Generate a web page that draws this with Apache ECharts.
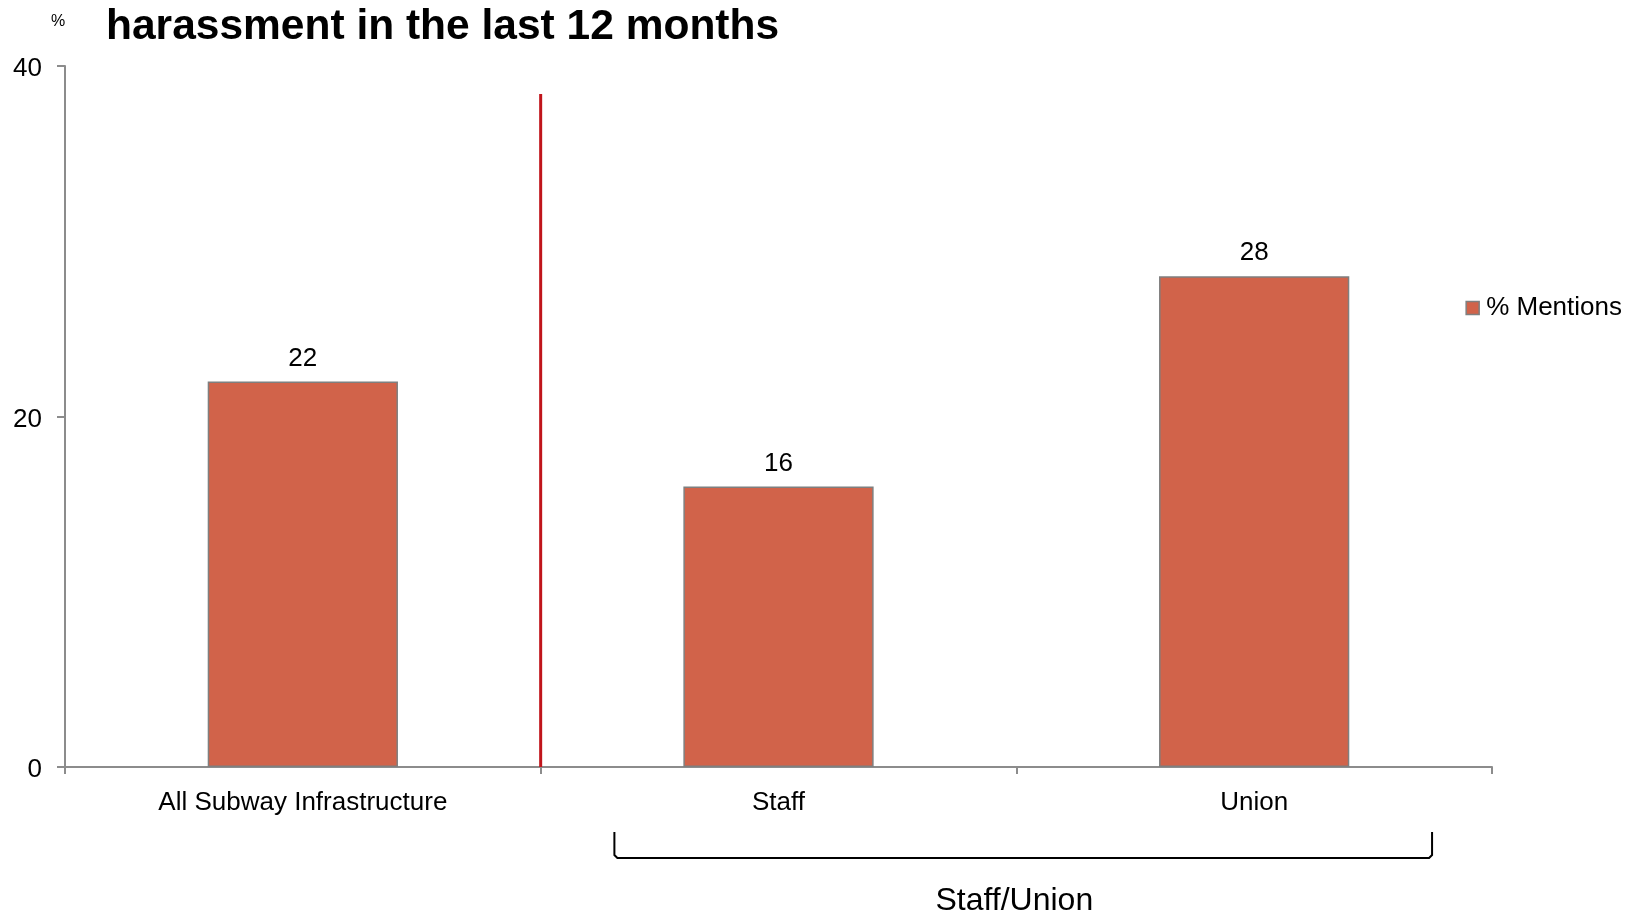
<!DOCTYPE html>
<html>
<head>
<meta charset="utf-8">
<style>
  html, body { margin: 0; padding: 0; background: #ffffff; }
  #chart { width: 1625px; height: 912px; }
</style>
<script src="https://cdn.jsdelivr.net/npm/echarts@6/dist/echarts.min.js"></script>
</head>
<body>
<div id="chart"></div>
<script>
// Categories and values
const categories = ['All Subway Infrastructure', 'Staff', 'Union'];
const mentions = [22, 16, 28];
const seriesName = '% Mentions';
const yTicks = { min: 0, max: 40, interval: 20 };
const groupLabel = 'Staff/Union';
const titleText = 'harassment in the last 12 months';
const unitText = '%';
// Height (in axis units) reached by the divider between the total and the groups
const dividerTop = 38.4;

const FONT = "'Liberation Sans', Arial, Helvetica, sans-serif";
const BAR = '#d1634a';
const AXIS = '#8c8c8c';

const chart = echarts.init(document.getElementById('chart'), null, { renderer: 'canvas' });

chart.setOption({
  animation: false,
  backgroundColor: '#ffffff',
  textStyle: { fontFamily: FONT },
  title: [
    {
      text: titleText,
      left: 101, top: 1,
      textStyle: { fontFamily: FONT, fontSize: 42.5, fontWeight: 'bold', color: '#000' }
    },
    {
      text: unitText,
      left: 46, top: 9,
      textStyle: { fontFamily: FONT, fontSize: 16, fontWeight: 'normal', color: '#000' }
    }
  ],
  legend: {
    right: -2, top: 290,
    itemWidth: 13, itemHeight: 13, itemGap: 6,
    textStyle: { fontFamily: FONT, fontSize: 26, color: '#000', padding: [0, 0, 0, 2] },
    data: [{ name: seriesName, icon: 'rect', itemStyle: { borderColor: '#7f7f7f', borderWidth: 1.5 } }]
  },
  grid: { left: 65, right: 133, top: 66, bottom: 145, containLabel: false },
  xAxis: {
    type: 'category',
    data: categories,
    boundaryGap: true,
    axisLine: { show: true, lineStyle: { color: AXIS, width: 2 } },
    axisTick: { show: true, alignWithLabel: false, length: 7, inside: false, lineStyle: { color: AXIS, width: 2 } },
    axisLabel: { color: '#000', fontFamily: FONT, fontSize: 26, margin: 23 },
    splitLine: { show: false }
  },
  yAxis: {
    type: 'value',
    min: yTicks.min, max: yTicks.max, interval: yTicks.interval,
    axisLine: { show: true, lineStyle: { color: AXIS, width: 2 } },
    axisTick: { show: true, length: 8, lineStyle: { color: AXIS, width: 2 } },
    axisLabel: {
      color: '#000', fontFamily: FONT, fontSize: 26, margin: 23,
      formatter: '{v|{value}}',
      rich: { v: { fontFamily: FONT, fontSize: 26, color: '#000', padding: [6, 0, 0, 0] } }
    },
    splitLine: { show: false }
  },
  series: [{
    name: seriesName,
    type: 'bar',
    data: mentions,
    barWidth: '40%',
    itemStyle: { color: BAR, borderColor: '#7f7f7f', borderWidth: 1.5 },
    label: {
      show: true, position: 'top', distance: 10,
      color: '#000', fontFamily: FONT, fontSize: 26
    }
  }]
});

// Divider between the overall column and the group, plus the bracket under the group
function drawAnnotations() {
  const c0 = chart.convertToPixel({ xAxisIndex: 0 }, categories[0]);
  const c1 = chart.convertToPixel({ xAxisIndex: 0 }, categories[1]);
  const c2 = chart.convertToPixel({ xAxisIndex: 0 }, categories[2]);
  const step = c1 - c0;
  const divX = (c0 + c1) / 2;
  const y0 = chart.convertToPixel({ yAxisIndex: 0 }, yTicks.min);
  const yTop = chart.convertToPixel({ yAxisIndex: 0 }, dividerTop);

  const bLeft = divX + step * 0.155;
  const bRight = divX + step * (2 - 0.126);
  const bTop = y0 + 65;
  const bBottom = y0 + 91;
  const r = 3;

  chart.setOption({
    graphic: [
      {
        type: 'line', z: 10,
        shape: { x1: divX, y1: yTop, x2: divX, y2: y0 },
        style: { stroke: '#c0141b', lineWidth: 3 }
      },
      {
        type: 'polyline', z: 10,
        shape: {
          points: [
            [bLeft, bTop], [bLeft, bBottom - r], [bLeft + r, bBottom],
            [bRight - r, bBottom], [bRight, bBottom - r], [bRight, bTop]
          ]
        },
        style: { stroke: '#000', lineWidth: 2, fill: null }
      },
      {
        type: 'text', z: 10,
        x: (c1 + c2) / 2 - 2, y: bBottom + 43,
        style: {
          text: groupLabel, fontFamily: FONT, fontSize: 32, fill: '#000',
          align: 'center', verticalAlign: 'middle'
        }
      }
    ]
  });
}
drawAnnotations();
</script>
</body>
</html>
